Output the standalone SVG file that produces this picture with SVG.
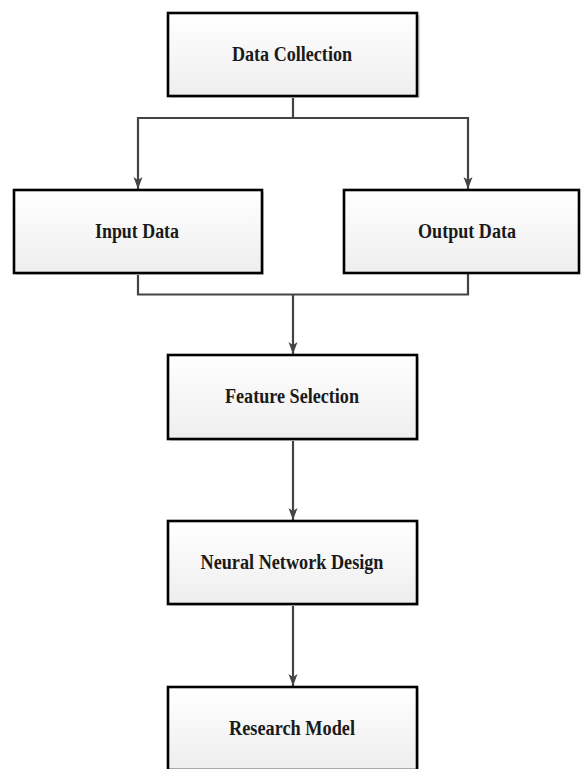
<svg xmlns="http://www.w3.org/2000/svg" width="581" height="769" viewBox="0 0 581 769">
<style>
.box{fill:url(#g);stroke:#000;stroke-width:2.6}
.sh{fill:#d8d8d8}
.lbl{font-family:"Liberation Serif","Times New Roman",serif;font-weight:bold;font-size:20px;fill:#1a1a1a;text-anchor:middle}
.con{fill:none;stroke:#444;stroke-width:2.2}
</style>
<defs>
<linearGradient id="g" x1="0" y1="0" x2="0" y2="1">
<stop offset="0" stop-color="#ffffff"/>
<stop offset="1" stop-color="#eeeeee"/>
</linearGradient>
<marker id="ar" markerUnits="userSpaceOnUse" markerWidth="12" markerHeight="12" viewBox="0 0 12 12" refX="12" refY="6" orient="auto">
<path d="M0,1.5 L12,6 L0,10.5 L3,6 Z" fill="#444"/>
</marker>
</defs>
<g id="connectors">
<path class="con" d="M293,97 V118 H138 V189" marker-end="url(#ar)"/>
<path class="con" d="M293,118 H468 V189" marker-end="url(#ar)"/>
<path class="con" d="M138,273 V294.5 H468 V273"/>
<path class="con" d="M293,294.5 V354" marker-end="url(#ar)"/>
<path class="con" d="M293,440 V520" marker-end="url(#ar)"/>
<path class="con" d="M293,605 V686" marker-end="url(#ar)"/>
</g>
<g id="data-collection">
<rect class="sh" x="170" y="15" width="250" height="83"/>
<rect class="box" x="168" y="13" width="249" height="83"/>
<text class="lbl" x="292" y="61" textLength="120" lengthAdjust="spacingAndGlyphs">Data Collection</text>
</g>
<g id="input-data">
<rect class="sh" x="16" y="192" width="248" height="83"/>
<rect class="box" x="14" y="190" width="248" height="83"/>
<text class="lbl" x="137" y="238" textLength="84" lengthAdjust="spacingAndGlyphs">Input Data</text>
</g>
<g id="output-data">
<rect class="box" x="344" y="190" width="235" height="83"/>
<text class="lbl" x="467" y="238" textLength="98" lengthAdjust="spacingAndGlyphs">Output Data</text>
</g>
<g id="feature-selection">
<rect class="sh" x="170" y="357" width="249" height="84"/>
<rect class="box" x="168" y="355" width="249" height="84"/>
<text class="lbl" x="292" y="403" textLength="134" lengthAdjust="spacingAndGlyphs">Feature Selection</text>
</g>
<g id="neural-network-design">
<rect class="sh" x="170" y="523" width="249" height="83"/>
<rect class="box" x="168" y="521" width="249" height="83"/>
<text class="lbl" x="292" y="569" textLength="183" lengthAdjust="spacingAndGlyphs">Neural Network Design</text>
</g>
<g id="research-model">
<rect class="sh" x="170" y="689" width="249" height="83"/>
<rect class="box" x="168" y="687" width="249" height="83"/>
<text class="lbl" x="292" y="735" textLength="126" lengthAdjust="spacingAndGlyphs">Research Model</text>
</g>
</svg>
